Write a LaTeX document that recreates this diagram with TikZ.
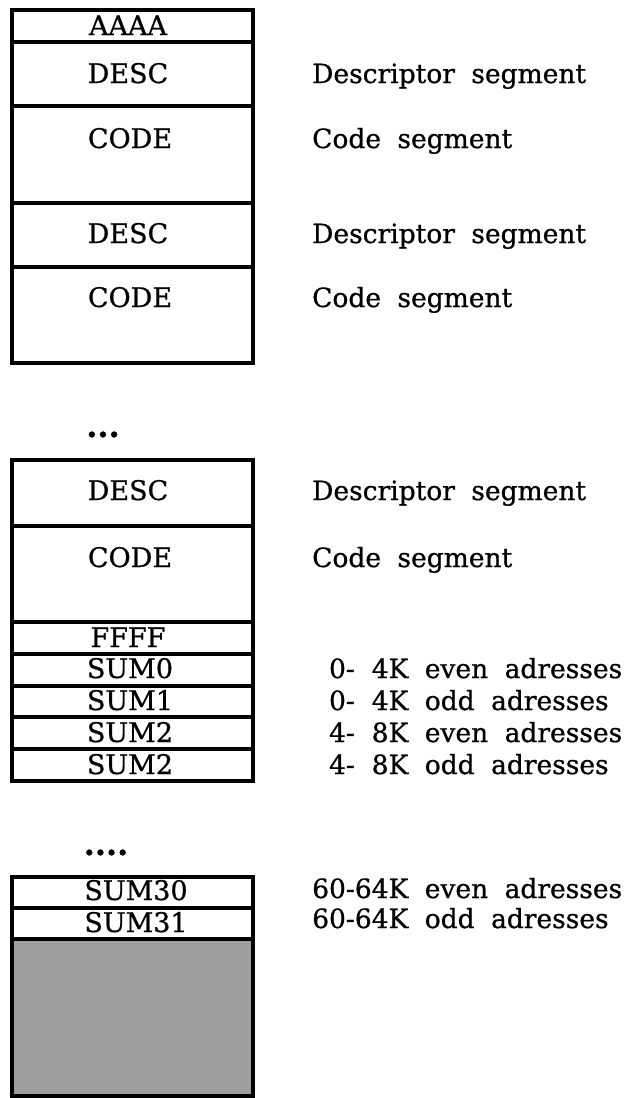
\documentclass[tikz,border=0pt]{standalone}
\usepackage{fontspec}
\setmainfont[FakeBold=0.8]{DejaVu Serif}
\newcommand{\labfont}{\fontsize{27}{28}\selectfont}
\newcommand{\notefont}{\fontsize{26.5}{28}\selectfont\spaceskip=0.62em}
\newcommand{\dotfont}{\fontsize{32}{34}\selectfont\bfseries}
\begin{document}
\begin{tikzpicture}[x=1pt, y=-1pt,
    cell/.style={draw, line width=3.2pt},
    lab/.style={anchor=base, inner sep=0pt, font=\labfont},
    note/.style={anchor=base west, inner sep=0pt, font=\notefont},
    dotrow/.style={anchor=base, inner sep=0pt, font=\dotfont}]
    \useasboundingbox (0,0) rectangle (629,1098);

    % first block
    \draw[cell] (12,10) rectangle (253,363);
    \foreach \y in {42,106,203,267}
        \draw[cell] (12,\y) -- (253,\y);
    \node[lab] (aaaa)  at (128,35)  {AAAA};
    \node[lab] (desc1) at (128,83)  {DESC};
    \node[lab] (code1) at (130,148) {CODE};
    \node[lab] (desc2) at (128,243) {DESC};
    \node[lab] (code2) at (130,307) {CODE};
    \node[note] (n1) at (312,83)  {Descriptor segment};
    \node[note] (n2) at (312,148) {Code segment};
    \node[note] (n3) at (312,243) {Descriptor segment};
    \node[note] (n4) at (312,307) {Code segment};

    \node[dotrow] (gap1) at (103,437) {...};

    % second block
    \draw[cell] (12,460) rectangle (253,781);
    \foreach \y in {526,622,654,686,717,749}
        \draw[cell] (12,\y) -- (253,\y);
    \node[lab] (desc3) at (128,500) {DESC};
    \node[lab] (code3) at (130,567) {CODE};
    \node[lab] (ffff)  at (128,647) {FFFF};
    \node[lab] (sum0)  at (130,678) {SUM0};
    \node[lab] (sum1)  at (130,710) {SUM1};
    \node[lab] (sum2)  at (130,742) {SUM2};
    \node[lab] (sum3)  at (130,774) {SUM2};
    \node[note] (n5) at (312,500) {Descriptor segment};
    \node[note] (n6) at (312,567) {Code segment};
    \node[note] (n7)  at (312,678) {\phantom{6}0-\phantom{6}4K even adresses};
    \node[note] (n8)  at (312,710) {\phantom{6}0-\phantom{6}4K odd adresses};
    \node[note] (n9)  at (312,742) {\phantom{6}4-\phantom{6}8K even adresses};
    \node[note] (n10) at (312,774) {\phantom{6}4-\phantom{6}8K odd adresses};

    \node[dotrow] (gap2) at (106,855) {....};

    % last block
    \fill[black!38] (12,939) rectangle (253,1096);
    \draw[cell] (12,877) rectangle (253,1096);
    \foreach \y in {908,939}
        \draw[cell] (12,\y) -- (253,\y);
    \node[lab] (sum30) at (136,900) {SUM30};
    \node[lab] (sum31) at (136,932) {SUM31};
    \node[note] (n11) at (312,898) {60-64K even adresses};
    \node[note] (n12) at (312,928) {60-64K odd adresses};
\end{tikzpicture}
\end{document}
